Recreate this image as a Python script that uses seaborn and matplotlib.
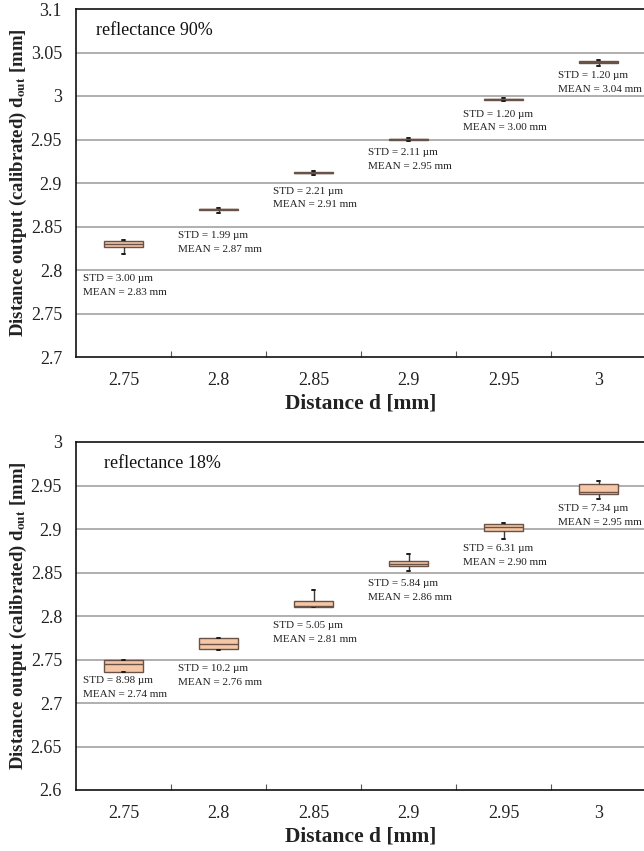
import numpy as np
import pandas as pd
import seaborn as sns
import matplotlib
matplotlib.use("Agg")
import matplotlib.pyplot as plt

# ---------------- data ----------------
distances = ["2.75", "2.8", "2.85", "2.9", "2.95", "3"]

# five-number summaries per distance: [min, q1, median, q3, max] (mm)
r90_stats = [
    [2.8184, 2.8264, 2.8300, 2.8337, 2.8340],
    [2.8660, 2.8693, 2.8698, 2.8703, 2.8712],
    [2.9090, 2.9114, 2.9119, 2.9124, 2.9140],
    [2.9487, 2.9497, 2.9502, 2.9507, 2.9513],
    [2.9940, 2.9957, 2.9962, 2.9967, 2.9980],
    [3.0345, 3.0379, 3.0390, 3.0402, 3.0410],
]
r18_stats = [
    [2.7357, 2.7357, 2.7446, 2.7495, 2.7499],
    [2.7611, 2.7619, 2.7683, 2.7745, 2.7752],
    [2.8098, 2.8098, 2.8115, 2.8167, 2.8294],
    [2.8521, 2.8570, 2.8598, 2.8628, 2.8713],
    [2.8889, 2.8982, 2.9020, 2.9054, 2.9066],
    [2.9342, 2.9404, 2.9431, 2.9520, 2.9546],
]
r90_std = ["3.00", "1.99", "2.21", "2.11", "1.20", "1.20"]
r90_mean = ["2.83", "2.87", "2.91", "2.95", "3.00", "3.04"]
r18_std = ["8.98", "10.2", "5.05", "5.84", "6.31", "7.34"]
r18_mean = ["2.74", "2.76", "2.81", "2.86", "2.90", "2.95"]

# vertical anchor (data units) of each annotation's first line
r90_label_y = [2.7897, 2.8391, 2.8908, 2.9345, 2.9793, 3.0230]
r18_label_y = [2.7253, 2.7392, 2.7887, 2.8371, 2.8774, 2.9235]

panels = [
    dict(title="reflectance 90%", stats=r90_stats, std=r90_std, mean=r90_mean,
         label_y=r90_label_y, ylim=(2.7, 3.1), title_x=0.035),
    dict(title="reflectance 18%", stats=r18_stats, std=r18_std, mean=r18_mean,
         label_y=r18_label_y, ylim=(2.6, 3.0), title_x=0.049),
]

# ---------------- styling ----------------
sns.set_theme(style="white")
plt.rcParams["font.family"] = ["Liberation Serif", "DejaVu Serif"]
plt.rcParams["mathtext.fontset"] = "stix"

FACE = "#F6C7A7"
EDGE = "#6a5246"
GRID = "#9a9a9a"

fig = plt.figure(figsize=(6.44, 8.51), dpi=100)
ax_pos = [
    [76 / 644, 1 - 357 / 851, 570 / 644, 348 / 851],
    [76 / 644, 1 - 790 / 851, 570 / 644, 348 / 851],
]

for p, pos in zip(panels, ax_pos):
    ax = fig.add_axes(pos)
    rows = []
    for d, st in zip(distances, p["stats"]):
        for v in st:
            rows.append({"distance": d, "value": v})
    df = pd.DataFrame(rows)

    lo, hi = p["ylim"]
    ticks = np.round(np.arange(lo, hi + 1e-9, 0.05), 2)
    for t in ticks[1:-1]:
        ax.axhline(t, color=GRID, lw=1.1, zorder=0)

    sns.boxplot(data=df, x="distance", y="value", order=distances, ax=ax,
                width=0.41, whis=(0, 100), color=FACE, saturation=1,
                linecolor=EDGE, linewidth=1.0, fliersize=0,
                capwidths=0.03,
                capprops=dict(color="#1a1a1a", linewidth=1.4),
                whiskerprops=dict(color="#3a3a3a", linewidth=1.0),
                medianprops=dict(color=EDGE, linewidth=1.0))

    for i, (s, m, y) in enumerate(zip(p["std"], p["mean"], p["label_y"])):
        ax.annotate(f"STD = {s} µm", xy=(i - 0.43, y), ha="left", va="center",
                    fontsize=8, color="#222222")
        ax.annotate(f"MEAN = {m} mm", xy=(i - 0.43, y), xytext=(0, -10),
                    textcoords="offset points", ha="left", va="center",
                    fontsize=8, color="#222222")

    ax.text(p["title_x"], 0.937, p["title"], transform=ax.transAxes,
            ha="left", va="center", fontsize=13, color="#111111")

    ax.set_ylim(lo, hi)
    ax.set_xlim(-0.5, len(distances) - 0.5)
    ax.set_yticks(ticks)
    ax.set_yticklabels([f"{t:g}" for t in ticks])
    ax.set_xticks(range(len(distances)))
    ax.set_xticklabels(distances)
    ax.set_xticks(np.arange(0.5, len(distances) - 0.5, 1.0), minor=True)
    ax.tick_params(axis="x", which="major", length=0, pad=11, labelsize=13,
                   labelcolor="#222222")
    ax.tick_params(axis="x", which="minor", length=4, direction="in",
                   width=0.8, color="#555555", bottom=True)
    ax.tick_params(axis="y", which="major", length=0, pad=10, labelsize=13,
                   labelcolor="#222222")

    for side in ["left", "bottom", "top"]:
        ax.spines[side].set_visible(True)
        ax.spines[side].set_color("#111111")
        ax.spines[side].set_linewidth(1.2)
    ax.spines["right"].set_visible(False)

    ax.set_xlabel("Distance d [mm]", fontsize=15.5, fontweight="bold",
                  labelpad=3, color="#222222")
    ax.set_ylabel(r"Distance output (calibrated) d$_{\mathbf{out}}$ [mm]",
                  fontsize=13.5, fontweight="bold", color="#222222")
    ax.yaxis.set_label_coords(-0.083, 0.5)

fig.savefig("out.png", dpi=100)
